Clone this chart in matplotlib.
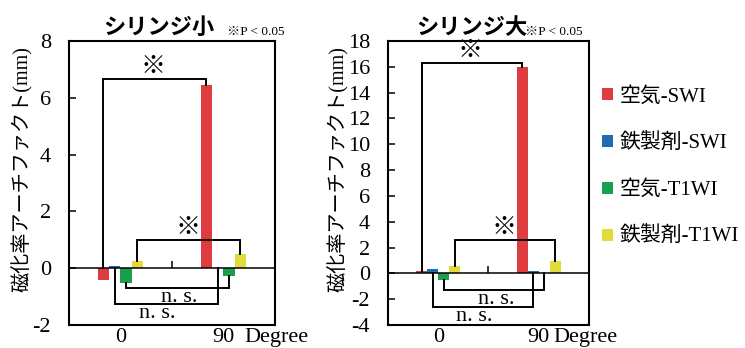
import matplotlib
matplotlib.use("Agg")
import matplotlib.pyplot as plt
import numpy as np

plt.rcParams['axes.unicode_minus'] = False

SERIF_JP = ['Liberation Serif', 'Noto Sans CJK JP']
JP = ['Noto Sans CJK JP', 'Liberation Serif']

# --- data -------------------------------------------------------------
categories = ['0', '90']
series_names = ['空気-SWI', '鉄製剤-SWI', '空気-T1WI', '鉄製剤-T1WI']
colors = ['#DF3C40', '#1F6CB3', '#19A04D', '#E2DC3A']

small_air_swi = [-0.40, 6.44]
small_iron_swi = [0.08, 0.00]
small_air_t1 = [-0.52, -0.28]
small_iron_t1 = [0.25, 0.49]

large_air_swi = [0.20, 16.0]
large_iron_swi = [0.37, 0.15]
large_air_t1 = [-0.50, 0.03]
large_iron_t1 = [0.60, 0.96]

# bracket heights: (※ air-SWI, ※ iron-T1WI, n.s. air-T1WI, n.s. iron-SWI)
small_brackets = [6.65, 0.99, -0.69, -1.25]
large_brackets = [16.33, 2.59, -1.29, -2.63]

panels = [
    dict(title='シリンジ小', values=[small_air_swi, small_iron_swi, small_air_t1, small_iron_t1],
         ylim=(-2, 8), ystep=2, brackets=small_brackets,
         rect=[0.0926, 0.0661, 0.2765, 0.8161], ylab_x=-0.175, title_x=0.437,
         note_x=0.767, deg_x=0.85),
    dict(title='シリンジ大', values=[large_air_swi, large_iron_swi, large_air_t1, large_iron_t1],
         ylim=(-4, 18), ystep=2, brackets=large_brackets,
         rect=[0.5208, 0.0661, 0.2698, 0.8161], ylab_x=-0.195, title_x=0.418,
         note_x=0.68, deg_x=0.825),
]

width = 0.11
offsets = (np.arange(4) - 1.5) * width
x = np.arange(len(categories))

fig = plt.figure(figsize=(7.45, 3.48), dpi=100)


def bracket(ax, xa, ya, xb, yb, level, lw=1.4):
    ax.plot([xa, xa, xb, xb], [ya, level, level, yb], color='black', lw=lw,
            solid_joinstyle='miter', zorder=4)


handles = None
for p in panels:
    ax = fig.add_axes(p['rect'])
    vals = p['values']
    bars = []
    for i, (name, v) in enumerate(zip(series_names, vals)):
        b = ax.bar(x + offsets[i], v, width, color=colors[i], label=name,
                   linewidth=0, zorder=3)
        bars.append(b)
    if handles is None:
        handles = bars

    ax.axhline(0, color='black', lw=1.1, zorder=5)
    # category divider tick on the zero line
    ax.plot([(x[0] + x[1]) / 2], [0], marker=2, markersize=5, mew=1.1,
            color='black', zorder=5)

    lo, hi = p['ylim']
    ticks = np.arange(lo, hi + 0.1, p['ystep'])
    ax.set_xlim(-0.5, len(categories) - 0.5)
    ax.set_ylim(lo, hi)
    ax.set_yticks(ticks)
    ax.set_yticklabels([f'{int(t)}' for t in ticks], family='Liberation Serif', fontsize=16)
    ax.set_xticks(x)
    ax.set_xticklabels(categories, family='Liberation Serif', fontsize=16)
    ax.tick_params(axis='y', direction='in', length=5, width=1.1, pad=13)
    ax.tick_params(axis='x', length=0, pad=2.5)
    for s in ax.spines.values():
        s.set_linewidth(1.5)

    ax.set_ylabel('磁化率アーチファクト(mm)', family=SERIF_JP, fontsize=14.5)
    ax.yaxis.set_label_coords(p['ylab_x'], 0.55)

    ax.text(p['title_x'], 1.049, p['title'], transform=ax.transAxes, ha='center',
            va='center', family=JP, fontsize=16, fontweight='bold')
    ax.text(p['note_x'], 1.01, '※P < 0.05', transform=ax.transAxes, ha='left',
            va='bottom', family=SERIF_JP, fontsize=9.5)
    ax.text(p['deg_x'], -0.012, 'Degree', transform=ax.transAxes, ha='left',
            va='top', family='Liberation Serif', fontsize=16)

    b_sig1, b_sig2, b_ns1, b_ns2 = p['brackets']
    air_swi, iron_swi, air_t1, iron_t1 = vals
    # ※ : air-SWI 0 vs 90
    xa, xb = x[0] + offsets[0], x[1] + offsets[0]
    bracket(ax, xa, max(air_swi[0], 0), xb, max(air_swi[1], 0), b_sig1)
    ax.text((xa + xb) / 2 - 0.02, b_sig1, '※', ha='center', va='bottom',
            family=JP, fontsize=18)
    # ※ : iron-T1WI 0 vs 90
    xa, xb = x[0] + offsets[3], x[1] + offsets[3]
    bracket(ax, xa, max(iron_t1[0], 0), xb, max(iron_t1[1], 0), b_sig2)
    ax.text((xa + xb) / 2 - 0.01, b_sig2, '※', ha='center', va='bottom',
            family=JP, fontsize=18)
    # n.s. : air-T1WI 0 vs 90
    xa, xb = x[0] + offsets[2], x[1] + offsets[2]
    bracket(ax, xa, min(air_t1[0], 0), xb, min(air_t1[1], 0), b_ns1)
    ax.text((xa + xb) / 2 + 0.02, b_ns1, 'n. s.', ha='center', va='top',
            family='Liberation Serif', fontsize=16)
    # n.s. : iron-SWI 0 vs 90
    xa, xb = x[0] + offsets[1], x[1] + offsets[1]
    bracket(ax, xa, min(iron_swi[0], 0), xb, min(iron_swi[1], 0), b_ns2)
    ax.text((xa + xb) / 2 - 0.09, b_ns2, 'n. s.', ha='center', va='top',
            family='Liberation Serif', fontsize=16)

fig.legend(handles=handles, labels=series_names, loc='center left',
           bbox_to_anchor=(0.797, 0.52), frameon=False,
           prop={'family': SERIF_JP, 'size': 15},
           handlelength=0.5, handleheight=0.5, handletextpad=0.35,
           labelspacing=1.3, borderaxespad=0)

fig.savefig('out.png', dpi=100)
